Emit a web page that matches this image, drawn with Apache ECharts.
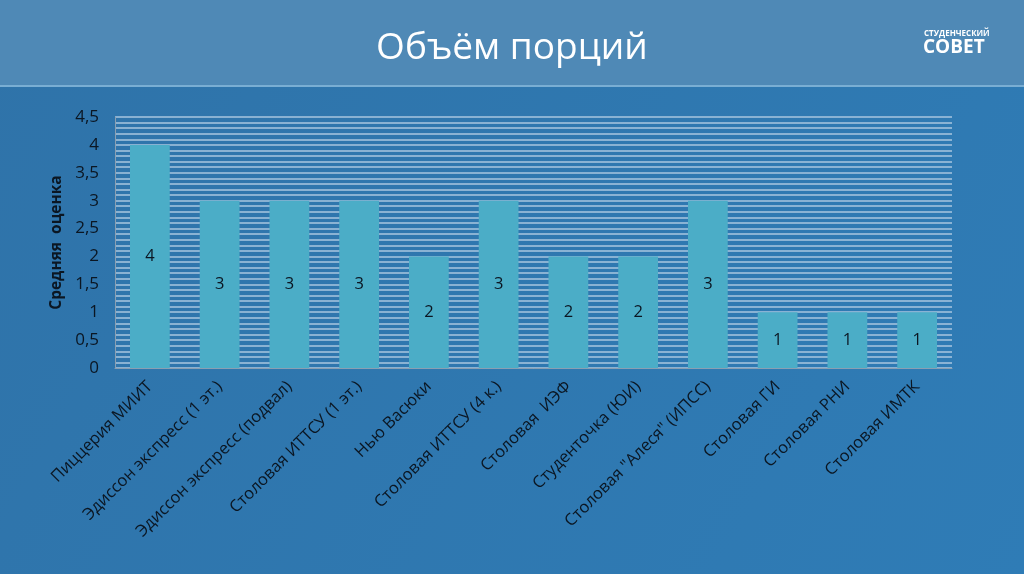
<!DOCTYPE html>
<html><head><meta charset="utf-8">
<script src="https://cdn.jsdelivr.net/npm/echarts@6/dist/echarts.min.js"></script>
<style>html,body{margin:0;padding:0;}#c{width:1024px;height:574px;}</style>
</head><body><div id="c"></div>
<script>
const categories = ['Пиццерия МИИТ','Эдиссон экспресс (1 эт.)','Эдиссон экспресс (подвал)','Столовая ИТТСУ (1 эт.)','Нью Васюки','Столовая ИТТСУ (4 к.)','Столовая  ИЭФ','Студенточка (ЮИ)','Столовая "Алеся" (ИПСС)','Столовая ГИ','Столовая РНИ','Столовая ИМТК'];
const values = [4,3,3,3,2,3,2,2,3,1,1,1];
const yTicks = {min:0,max:4.5,interval:0.5};
const titleText = 'Объём порций';
const yName = 'Средняя  оценка';

const chart = echarts.init(document.getElementById('c'));
const grid = {left:115,right:72,top:117,bottom:206};
chart.setOption({
  backgroundColor:{type:'linear',x:0,y:0,x2:1,y2:1,colorStops:[{offset:0,color:'#2f73a9'},{offset:1,color:'#2f7cb6'}]},
  textStyle:{fontFamily:'Open Sans, sans-serif'},
  graphic:[
    {type:'rect',shape:{x:0,y:0,width:1024,height:85},style:{fill:'#4f89b6'},z:-1},
    {type:'rect',shape:{x:0,y:85,width:1024,height:2},style:{fill:'#7aaed3'},z:-1},
    {type:'text',left:'center',top:30,style:{text:titleText,fill:'#ffffff',font:'37px "Open Sans", sans-serif'}},
    {type:'text',x:924,y:30,style:{text:'СТУДЕНЧЕСКИЙ',fill:'#ffffff',font:'bold 8px "Open Sans", sans-serif'}},
    {type:'text',x:923,y:38,style:{text:'СОВЕТ',fill:'#ffffff',font:'bold 19px "Open Sans", sans-serif'}}
  ],
  grid:grid,
  xAxis:{type:'category',data:categories,
    axisLine:{show:true,lineStyle:{color:'#8a9fb2',width:1}},
    axisTick:{show:false},
    axisLabel:{rotate:45,interval:0,color:'#0b1622',fontSize:16.5,margin:16,fontFamily:'Open Sans, sans-serif'}},
  yAxis:{type:'value',min:yTicks.min,max:yTicks.max,interval:yTicks.interval,
    name:yName,nameLocation:'middle',nameGap:50,nameRotate:90,
    nameTextStyle:{color:'#0b1622',fontSize:15.5,fontWeight:'bold'},
    axisLine:{show:true,lineStyle:{color:'#8a9fb2',width:1}},
    axisTick:{show:false},
    axisLabel:{color:'#0b1622',fontSize:17,margin:16,formatter:v=>String(v).replace('.',',')},
    splitLine:{show:true,lineStyle:{color:'#a9c6df',width:1.5}},
    minorTick:{show:false,splitNumber:5},
    minorSplitLine:{show:true,lineStyle:{color:'#a9c6df',width:1.5}}
  },
  series:[{type:'bar',data:values,barWidth:'57%',
    itemStyle:{color:'#4badc7'},
    label:{show:true,position:'inside',color:'#0b1622',fontSize:16.5}
  }]
});
</script></body></html>
